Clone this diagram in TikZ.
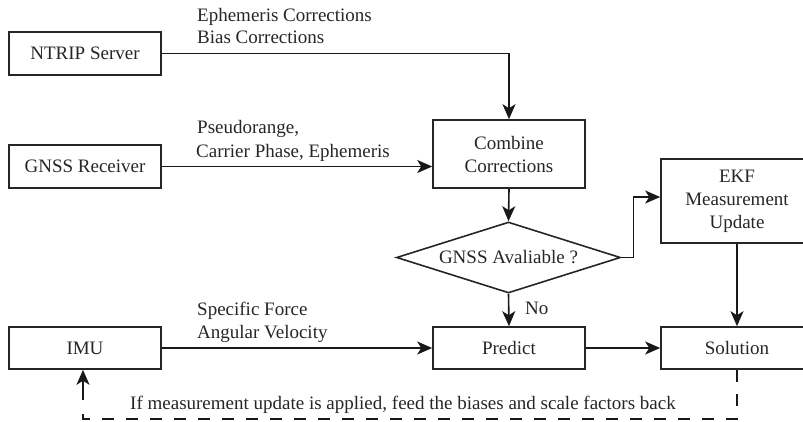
\documentclass[tikz,border=0pt]{standalone}
\usepackage{fontspec}
\setmainfont{Liberation Serif}
\usetikzlibrary{shapes.geometric,arrows.meta}
\begin{document}
\begin{tikzpicture}[x=1pt,y=-1pt,
  txt/.style={font=\fontsize{19}{23}\selectfont, text=black!85},
  box/.style={draw=black!85, line width=1.6pt, minimum width=152pt, inner sep=0pt, align=center, txt},
  dia/.style={draw=black!85, line width=1.6pt, shape=diamond, aspect=3.15, minimum width=224pt, minimum height=71pt, inner sep=0pt, txt},
  arr/.style={draw=black!90, line width=1.6pt, -{Stealth[length=15pt,width=13pt,inset=4pt]}},
  fb/.style={draw=black!90, line width=1.6pt, dash pattern=on 12pt off 12pt},
  lab/.style={anchor=base west, inner sep=0pt, txt}
]
\useasboundingbox (0,0) rectangle (803,421);
\clip (0,0) rectangle (803,421);
\node[box, minimum height=43pt] (ntrip) at (85,53.5) {NTRIP Server};
\node[box, minimum height=43pt] (gnss) at (85,166.5) {GNSS Receiver};
\node[box, minimum height=42pt] (imu) at (85,348) {IMU};
\node[box, minimum height=68pt] (comb) at (509,154) {Combine\\Corrections};
\node[dia] (dia) at (508.5,257.5) {GNSS Avaliable ?};
\node[box, minimum height=84pt] (ekf) at (737,201) {EKF\\Measurement\\Update};
\node[box, minimum height=42pt] (pred) at (509,348) {Predict};
\node[box, minimum height=42pt] (sol) at (737,348) {Solution};
\coordinate (ekfin) at ([yshift=4pt]ekf.west);
\coordinate (fbcorner) at (737,419);
\coordinate (fbend) at (83,410);
\coordinate (fbstart) at (83,400);

\draw[arr] (ntrip.east) -| (comb.north);
\draw[arr] (gnss.east) -- (gnss.east -| comb.west);
\draw[arr] (comb.south) -- (dia.north);
\draw[arr] (dia.south) -- (pred.north);
\draw[arr] (dia.east) -- ++(12,0) |- (ekfin);
\draw[arr] (imu.east) -- (pred.west);
\draw[arr] (pred.east) -- (sol.west);
\draw[arr] (ekf.south) -- (sol.north);
\draw[fb] (sol.south) -- (fbcorner) -| (fbend);
\draw[arr] (fbstart) -- (fbstart |- imu.south);

\node[lab] (l1) at (197,21) {Ephemeris Corrections};
\node[lab] (l2) at (197,43) {Bias Corrections};
\node[lab] (l3) at (197,133) {Pseudorange,};
\node[lab] (l4) at (196,157) {Carrier Phase, Ephemeris};
\node[lab] (l5) at (197,315) {Specific Force};
\node[lab] (l6) at (197,338) {Angular Velocity};
\node[lab] (no) at (525,314) {No};
\node[lab] (fbt) at (130,409) {If measurement update is applied, feed the biases and scale factors back};
\end{tikzpicture}
\end{document}
